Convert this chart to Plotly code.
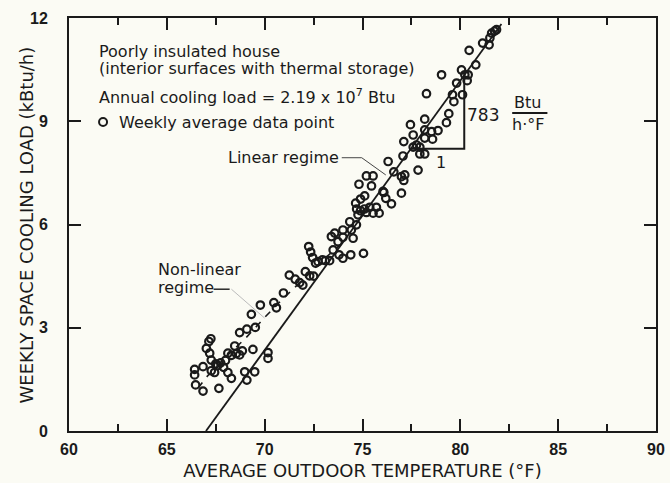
import plotly.graph_objects as go

# Weekly average outdoor temperature (°F) and weekly space cooling load (kBtu/h)
temp_f = [
    66.42, 66.42, 66.47, 66.85, 66.85, 67.02, 67.19, 67.27, 67.15, 67.25,
    67.27, 67.44, 67.66, 67.50, 67.75, 68.00, 67.90, 68.12, 68.47, 68.72,
    68.86, 68.12, 68.30, 68.72, 69.09, 69.52, 68.98, 69.09, 69.49, 70.17,
    70.17, 69.40, 68.30, 68.55, 67.60,
    69.32, 69.78, 70.47, 70.60, 70.96, 71.26, 71.56, 71.79, 71.95, 72.08,
    72.30, 72.50, 72.25, 72.35, 72.45, 72.60,
    72.73, 72.95, 73.10, 73.32, 73.50, 73.80, 74.00, 74.40, 75.05,
    73.58, 73.41, 73.75, 74.00, 74.43, 74.69, 74.00, 74.52, 74.35, 74.77,
    74.65, 74.90, 75.11, 75.37, 75.71, 75.54, 75.85, 74.70, 74.90, 75.10,
    75.20, 74.82, 75.46, 75.20, 75.54, 76.09, 76.19, 76.48, 76.99, 76.05,
    76.31, 76.60, 76.99, 77.16, 77.11, 77.84, 77.07, 77.93, 78.18, 77.11,
    77.59, 77.76, 77.93, 77.59, 78.18, 78.58, 77.45, 78.18, 78.53, 78.86,
    78.18, 79.29, 79.41,
    78.27, 79.60, 80.11, 79.67, 79.81, 80.35, 79.04, 80.06, 80.23, 80.40,
    80.79, 80.45, 81.14, 81.47, 81.51, 81.60, 81.85, 81.75,
]
load_kbtu_h = [
    1.79, 1.63, 1.34, 1.16, 1.87, 2.40, 2.26, 2.06, 2.60, 2.68,
    1.75, 1.70, 1.24, 1.95, 1.98, 2.05, 1.85, 2.26, 2.47, 2.21,
    2.33, 1.70, 1.53, 2.86, 2.96, 3.01, 1.72, 1.48, 1.72, 2.28,
    2.11, 2.37, 2.20, 2.25, 1.90,
    3.39, 3.66, 3.73, 3.58, 4.01, 4.53, 4.41, 4.31, 4.24, 4.63,
    4.51, 4.50, 5.36, 5.20, 5.04, 4.88,
    4.92, 4.97, 4.95, 4.95, 5.26, 5.12, 5.02, 5.12, 5.16,
    5.75, 5.65, 5.50, 5.84, 5.84, 5.99, 5.63, 5.60, 6.08, 6.28,
    6.62, 6.74, 6.83, 6.50, 6.50, 6.33, 6.33, 6.45, 6.40, 6.45,
    6.35, 7.17, 7.12, 7.41, 7.41, 6.93, 6.76, 6.60, 6.91, 6.96,
    7.83, 7.53, 7.39, 7.44, 7.28, 7.58, 7.99, 8.05, 8.05, 8.41,
    8.25, 8.31, 8.25, 8.60, 8.51, 8.48, 8.90, 8.75, 8.70, 8.73,
    9.06, 8.96, 9.22,
    9.80, 9.77, 9.77, 9.57, 10.11, 10.18, 10.35, 10.49, 10.35, 10.35,
    10.64, 11.06, 11.27, 11.22, 11.42, 11.56, 11.66, 11.62,
]

# Least-squares line for the linear regime: load = slope * (T - T_zero)
fit_slope = 0.783          # kBtu/h per °F  (783 Btu/h·°F)
fit_zero_temp = 67.0       # °F where cooling load reaches zero
fit_end_temp = 82.1

# Dashed trend through the non-linear regime
nonlin_temp = [66.6, 67.0, 68.0, 69.0, 70.0, 71.0, 72.0, 73.0, 74.0]
nonlin_load = [1.25, 1.55, 2.15, 2.68, 3.30, 3.88, 4.42, 4.98, 5.48]

x_ticks = [60, 65, 70, 75, 80, 85, 90]
y_ticks = [0, 3, 6, 9, 12]

INK = "#1a1a1a"
BG = "#fbfbf4"
FONT = "DejaVu Sans"
TICK_FONT = dict(family="Liberation Sans", size=16, color=INK, weight="bold")

fit_x = [fit_zero_temp, fit_end_temp]
fit_y = [fit_slope * (t - fit_zero_temp) for t in fit_x]

fig = go.Figure()

fig.add_trace(go.Scatter(
    x=nonlin_temp, y=nonlin_load, mode="lines",
    line=dict(color=INK, width=1.6, dash="7px,7px"),
    hoverinfo="skip", showlegend=False,
))
fig.add_trace(go.Scatter(
    x=fit_x, y=fit_y, mode="lines",
    line=dict(color=INK, width=1.8),
    hoverinfo="skip", showlegend=False,
))
fig.add_trace(go.Scatter(
    x=temp_f, y=load_kbtu_h, mode="markers",
    marker=dict(symbol="circle-open", size=7.5, color=INK, line=dict(width=2.2, color=INK)),
    name="Weekly average data point", showlegend=False,
))

# Slope triangle: run of 1 unit drawn along the fit line
tri_load = 8.2
tri_x0 = fit_zero_temp + tri_load / fit_slope
tri_x1 = 80.2
tri_top = fit_slope * (tri_x1 - fit_zero_temp)
fig.add_trace(go.Scatter(
    x=[tri_x0, tri_x1, tri_x1], y=[tri_load, tri_load, tri_top], mode="lines",
    line=dict(color=INK, width=2), hoverinfo="skip", showlegend=False,
))

# Leader lines for the regime labels
fig.add_trace(go.Scatter(
    x=[73.94, 74.96, 76.19], y=[7.94, 7.94, 7.44], mode="lines",
    line=dict(color="#444444", width=1), hoverinfo="skip", showlegend=False,
))
fig.add_trace(go.Scatter(
    x=[67.39, 68.21], y=[4.12, 4.12], mode="lines",
    line=dict(color=INK, width=1.4), hoverinfo="skip", showlegend=False,
))
fig.add_trace(go.Scatter(
    x=[68.3, 70.0], y=[4.12, 3.28], mode="lines",
    line=dict(color="#bbbbbb", width=1), hoverinfo="skip", showlegend=False,
))

ann = dict(showarrow=False, font=dict(family=FONT, size=16, color=INK))
annotations = [
    dict(text="Poorly insulated house", xref="paper", yref="paper",
         x=0.047, y=0.919, xanchor="left", yanchor="middle", **ann),
    dict(text="(interior surfaces with thermal storage)", xref="paper", yref="paper",
         x=0.047, y=0.877, xanchor="left", yanchor="middle", **ann),
    dict(text="Annual cooling load = 2.19 x 10<sup>7</sup> Btu", xref="paper", yref="paper",
         x=0.047, y=0.809, xanchor="left", yanchor="middle", **ann),
    dict(text="Weekly average data point", xref="paper", yref="paper",
         x=0.081, y=0.748, xanchor="left", yanchor="middle", **ann),
    dict(text="Linear regime", x=73.9, y=7.95, xanchor="right", yanchor="middle", **ann),
    dict(text="Non-linear", x=64.45, y=4.7, xanchor="left", yanchor="middle", **ann),
    dict(text="regime", x=64.45, y=4.17, xanchor="left", yanchor="middle", **ann),
    dict(text="783", x=81.15, y=9.19, xanchor="center", yanchor="middle",
         showarrow=False, font=dict(family=FONT, size=17, color=INK)),
    dict(text="Btu", x=83.45, y=9.55, xanchor="center", yanchor="middle", **ann),
    dict(text="h·°F", x=83.45, y=8.9, xanchor="center", yanchor="middle", **ann),
    dict(text="1", x=79.0, y=7.8, xanchor="center", yanchor="middle", **ann),
    # vertical axis title
    dict(text="WEEKLY SPACE COOLING LOAD (kBtu/h)", xref="paper", yref="paper",
         x=-0.0716, y=0.5, xanchor="center", yanchor="middle", textangle=-90,
         showarrow=False, font=dict(family=FONT, size=18, color=INK)),
]

shapes = [
    # fraction bar for Btu / h·°F
    dict(type="line", x0=82.65, x1=84.45, y0=9.24, y1=9.24,
         line=dict(color=INK, width=2)),
    # open-circle key beside the legend text
    dict(type="circle", xref="paper", yref="paper", xsizemode="pixel", ysizemode="pixel",
         xanchor=0.058, yanchor=0.748, x0=-4, x1=4, y0=-4, y1=4,
         line=dict(color=INK, width=2)),
]

axis_common = dict(
    showline=True, linecolor=INK, linewidth=2, mirror="allticks",
    ticks="inside", tickcolor=INK, tickwidth=1.6, ticklen=12,
    showgrid=False, zeroline=False, automargin=False,
    tickfont=TICK_FONT,
)

fig.update_layout(
    width=670, height=483,
    margin=dict(l=69, r=14, t=18, b=52),
    paper_bgcolor=BG, plot_bgcolor=BG,
    xaxis=dict(range=[60, 90], tickvals=x_ticks, ticklabelstandoff=3,
               minor=dict(ticks="inside", ticklen=7, tickwidth=1.6, tickcolor=INK, dtick=2.5, tick0=60),
               title=dict(text="AVERAGE OUTDOOR TEMPERATURE (°F)", standoff=7,
                          font=dict(family=FONT, size=18, color=INK)),
               **axis_common),
    yaxis=dict(range=[0, 12], tickvals=y_ticks, ticklabelstandoff=16, **axis_common),
    annotations=annotations,
    shapes=shapes,
    showlegend=False,
)

fig.write_html("out.html")
